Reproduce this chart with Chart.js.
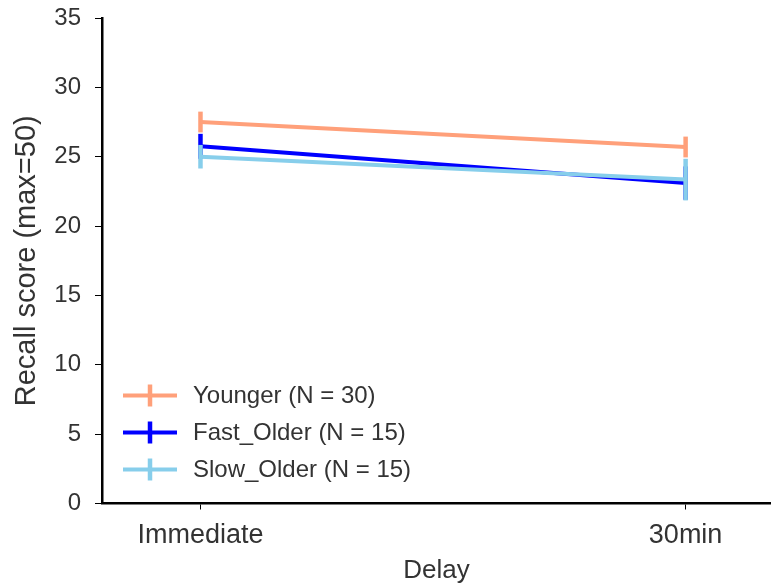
<!DOCTYPE html>
<html>
<head>
<meta charset="utf-8">
<script src="https://cdn.jsdelivr.net/npm/chart.js@4.4.1/dist/chart.umd.min.js"></script>
<style>
  html, body { margin: 0; padding: 0; background: #fff; }
  #wrap { width: 771px; height: 584px; }
</style>
</head>
<body>
<div id="wrap"><canvas id="recall-chart" width="771" height="584"></canvas></div>
<script>
// Recall by delay condition, one line per age group, SEM whiskers.
const delays = ["Immediate", "30min"];

const groupLabels = ["Younger (N = 30)", "Fast_Older (N = 15)", "Slow_Older (N = 15)"];
const groupColors = ["#ffa07a", "#0000ff", "#87ceeb"];

const youngerMean   = [27.5, 25.7];
const youngerErr    = [0.75, 0.75];
const fastOlderMean = [25.75, 23.1];
const fastOlderErr  = [0.9, 1.2];
const slowOlderMean = [25.0, 23.35];
const slowOlderErr  = [0.85, 1.5];

const means  = [youngerMean, fastOlderMean, slowOlderMean];
const errors = [youngerErr, fastOlderErr, slowOlderErr];

const yTicks = [0, 5, 10, 15, 20, 25, 30, 35];

const FONT = "'Liberation Sans', Arial, sans-serif";
const TEXT = "#333333";
const LINE_W = 4;
const ERR_W = 4.5;

// whiskers are drawn just before each group's line so later groups sit on top
const errorBarPlugin = {
    id: "errorBars",
    beforeDatasetDraw(chart, args) {
        const i = args.index;
        const { ctx, scales } = chart;
        ctx.save();
        ctx.strokeStyle = groupColors[i];
        ctx.lineWidth = ERR_W;
        ctx.lineCap = "butt";
        means[i].forEach((m, k) => {
            const x = scales.x.getPixelForValue(k);
            ctx.beginPath();
            ctx.moveTo(x, scales.y.getPixelForValue(m - errors[i][k]));
            ctx.lineTo(x, scales.y.getPixelForValue(m + errors[i][k]));
            ctx.stroke();
        });
        ctx.restore();
    },
};

// matplotlib-style legend in the lower left of the axes
const crossLegendPlugin = {
    id: "crossLegend",
    afterDraw(chart) {
        const { ctx, chartArea } = chart;
        const x0 = chartArea.left + 21;
        const rowH = 37;
        const firstY = chartArea.bottom - 108;
        ctx.save();
        ctx.font = "24px " + FONT;
        ctx.textBaseline = "middle";
        ctx.textAlign = "left";
        groupLabels.forEach((label, i) => {
            const y = firstY + i * rowH;
            ctx.strokeStyle = groupColors[i];
            ctx.lineWidth = LINE_W;
            ctx.beginPath();
            ctx.moveTo(x0, y);
            ctx.lineTo(x0 + 54, y);
            ctx.stroke();
            ctx.lineWidth = ERR_W;
            ctx.beginPath();
            ctx.moveTo(x0 + 27, y - 11);
            ctx.lineTo(x0 + 27, y + 11);
            ctx.stroke();
            ctx.fillStyle = TEXT;
            ctx.fillText(label, x0 + 70, y + 1);
        });
        ctx.restore();
    },
};

const datasets = means.map((m, i) => ({
    label: groupLabels[i],
    data: m.map((v, k) => ({ x: k, y: v })),
    borderColor: groupColors[i],
    backgroundColor: groupColors[i],
    borderWidth: LINE_W,
    pointRadius: 0,
    tension: 0,
    fill: false,
    order: means.length - i,
}));

new Chart(document.getElementById("recall-chart"), {
    type: "line",
    data: { datasets },
    options: {
        responsive: false,
        animation: false,
        layout: { padding: { top: 18, right: 0, left: 0, bottom: 0 } },
        plugins: {
            legend: { display: false },
            tooltip: { enabled: false },
        },
        scales: {
            x: {
                type: "linear",
                min: -0.203,
                max: 1.176,
                afterBuildTicks: s => { s.ticks = delays.map((_, k) => ({ value: k })); },
                afterFit: s => { s.height = 80.5; },
                ticks: {
                    callback: v => delays[v],
                    color: TEXT,
                    font: { family: FONT, size: 27 },
                    padding: 10,
                    maxRotation: 0,
                },
                grid: { drawOnChartArea: false, drawTicks: true, tickLength: 6, tickColor: "#000", lineWidth: 1 },
                border: { display: true, color: "#000", width: 2.5 },
                title: {
                    display: true,
                    text: "Delay",
                    color: TEXT,
                    font: { family: FONT, size: 26, lineHeight: 1 },
                    padding: { top: 8, bottom: 0 },
                },
            },
            y: {
                min: 0,
                max: 35,
                afterBuildTicks: s => { s.ticks = yTicks.map(v => ({ value: v })); },
                afterFit: s => {
                    s.width = 102;
                    s.paddingTop = 0;
                    s.paddingBottom = 0;
                },
                ticks: {
                    color: TEXT,
                    font: { family: FONT, size: 24 },
                    padding: 14,
                },
                grid: { drawOnChartArea: false, drawTicks: true, tickLength: 7, tickColor: "#000", lineWidth: 1 },
                border: { display: true, color: "#000", width: 2.5 },
                title: {
                    display: true,
                    text: "Recall score (max=50)",
                    color: TEXT,
                    font: { family: FONT, size: 29 },
                    padding: { top: 10, bottom: 0 },
                },
            },
        },
    },
    plugins: [errorBarPlugin, crossLegendPlugin],
});
</script>
</body>
</html>
